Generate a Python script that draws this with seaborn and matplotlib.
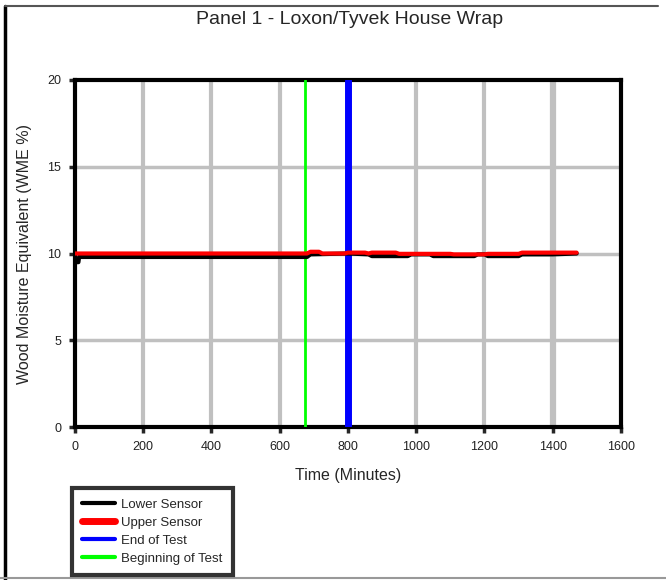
import pandas as pd
import matplotlib.pyplot as plt
import seaborn as sns
from matplotlib.lines import Line2D

# ================================
# Data
# ================================
lower_time = [0, 10, 12, 680, 690, 800, 860, 870, 975, 985, 1040, 1050, 1170, 1180, 1200, 1210, 1300, 1310, 1400, 1470]
lower_wme = [9.5, 9.5, 9.8, 9.8, 9.95, 10.0, 9.95, 9.85, 9.85, 9.95, 9.95, 9.85, 9.85, 9.95, 9.95, 9.85, 9.85, 9.95, 9.95, 10.0]

upper_time = [0, 680, 690, 715, 725, 790, 800, 850, 860, 870, 880, 940, 950, 1100, 1110, 1200, 1210, 1300, 1310, 1470]
upper_wme = [10.0, 10.0, 10.1, 10.1, 10.0, 10.0, 10.05, 10.05, 10.0, 10.05, 10.05, 10.05, 9.98, 9.98, 9.95, 9.95, 9.98, 9.98, 10.05, 10.05]

begin_test = 675
end_test = 800

x_ticks = [0, 200, 400, 600, 800, 1000, 1200, 1400, 1600]
y_ticks = [0, 5, 10, 15, 20]

lower_df = pd.DataFrame({"time": lower_time, "wme": lower_wme})
upper_df = pd.DataFrame({"time": upper_time, "wme": upper_wme})

# ================================
# Plot
# ================================
sns.set_style("white")
plt.rcParams["font.family"] = ["Liberation Sans", "DejaVu Sans"]

fig = plt.figure(figsize=(6.66, 5.8), dpi=100)
ax = fig.add_axes([75 / 666, 1 - 427 / 580, 546 / 666, 347 / 580])

# grid
for xv in x_ticks[1:-1]:
    ax.axvline(xv, color="#c0c0c0", lw=4.5 if xv == 1400 else 3, zorder=0)
for yv in y_ticks[1:-1]:
    ax.axhline(yv, color="#c0c0c0", lw=2.5, zorder=0)

ax.axvline(begin_test, color="#00ff00", lw=2, zorder=3)
ax.axvline(end_test, color="#0000ff", lw=5, zorder=3)

sns.lineplot(data=lower_df, x="time", y="wme", color="black", lw=3, ax=ax, zorder=4)
sns.lineplot(data=upper_df, x="time", y="wme", color="#ff0000", lw=3, ax=ax, zorder=5)

ax.set_xlim(0, 1600)
ax.set_ylim(0, 20)
ax.set_xticks(x_ticks)
ax.set_yticks(y_ticks)
ax.tick_params(axis="both", direction="out", length=4, width=2.5, labelsize=9,
               labelcolor="#222222", pad=6, bottom=True, left=True)

for s in ax.spines.values():
    s.set_visible(True)
    s.set_color("black")
    s.set_linewidth(3)

ax.set_xlabel("Time (Minutes)", fontsize=11.5, labelpad=11)
ax.set_ylabel("Wood Moisture Equivalent (WME %)", fontsize=11.5, labelpad=11)
fig.text(0.525, 1 - 20 / 580, "Panel 1 - Loxon/Tyvek House Wrap", ha="center", va="center", fontsize=14)

# legend
handles = [
    Line2D([], [], color="black", lw=3),
    Line2D([], [], color="#ff0000", lw=5),
    Line2D([], [], color="#0000ff", lw=3),
    Line2D([], [], color="#00ff00", lw=3),
]
labels = ["Lower Sensor", "Upper Sensor", "End of Test", "Beginning of Test"]
leg = fig.legend(handles, labels, loc="lower left", bbox_to_anchor=(72 / 666, 5 / 580),
                 borderaxespad=0, fontsize=9.5, frameon=True, fancybox=False,
                 handlelength=2.5, borderpad=0.75, labelspacing=0.45, handletextpad=0.5)
leg.get_frame().set_edgecolor("black")
leg.get_frame().set_linewidth(3)

# page frame
fig.add_artist(Line2D([5 / 666, 5 / 666], [1 - 6 / 580, 0], color="black", lw=2.5, transform=fig.transFigure))
fig.add_artist(Line2D([5 / 666, 658 / 666], [1 - 6 / 580, 1 - 6 / 580], color="#555555", lw=1.5, transform=fig.transFigure))
fig.add_artist(Line2D([0, 1], [2 / 580, 2 / 580], color="#999999", lw=1.5, transform=fig.transFigure))

plt.savefig("out.png", dpi=100)
